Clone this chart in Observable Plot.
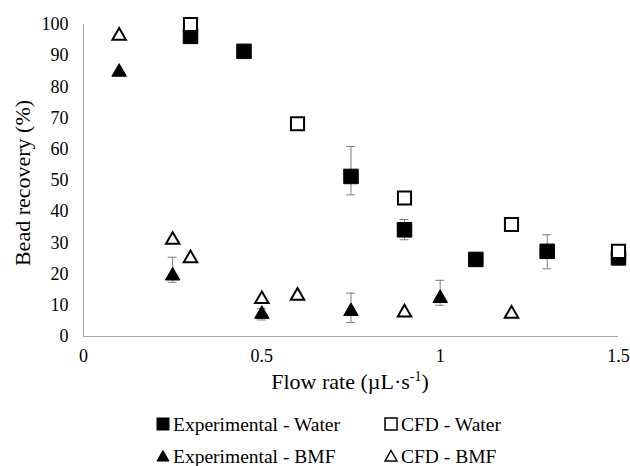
<!DOCTYPE html>
<html>
<head>
<meta charset="utf-8">
<script src="https://cdn.jsdelivr.net/npm/d3@7"></script>
<script src="https://cdn.jsdelivr.net/npm/@observablehq/plot@0.6"></script>
<style>
  html, body { margin: 0; padding: 0; background: #fff; }
  #chart { width: 630px; }
  svg { display: block; }
  #chart svg, #chart svg text, #chart svg tspan { font-family: 'Liberation Serif', 'Times New Roman', serif !important; }
</style>
</head>
<body>
<div id="chart"></div>
<script>
// ---- Data ----
const flowExpWater = [0.3, 0.45, 0.75, 0.9, 1.1, 1.3, 1.5];
const recExpWater  = [96.2, 91.4, 51.3, 34.2, 24.7, 27.3, 25.2];

const flowCfdWater = [0.3, 0.6, 0.9, 1.2, 1.5];
const recCfdWater  = [100, 68.2, 44.4, 35.9, 27.3];

const flowExpBmf = [0.1, 0.25, 0.5, 0.75, 1.0];
const recExpBmf  = [85.4, 20.1, 7.8, 8.7, 12.9];

const flowCfdBmf = [0.1, 0.25, 0.3, 0.5, 0.6, 0.9, 1.2];
const recCfdBmf  = [97.0, 31.6, 25.7, 12.6, 13.7, 8.3, 7.9];

// error bars (experimental series)
const errFlow = [0.75, 0.9, 1.3, 0.25, 0.5, 0.75, 1.0];
const errLow  = [45.4, 31.0, 21.7, 17.4, 5.3, 4.5, 10.0];
const errHigh = [60.9, 37.5, 32.6, 25.4, 9.0, 13.9, 18.0];

const xTicks = [0, 0.5, 1, 1.5];
const yTicks = [0, 10, 20, 30, 40, 50, 60, 70, 80, 90, 100];
const xTitle = "Flow rate (µL·s";
const xTitleSup = "-1";
const xTitleEnd = ")";
const yTitle = "Bead recovery (%)";
const seriesNames = ["Experimental - Water", "CFD - Water", "Experimental - BMF", "CFD - BMF"];

// ---- Build tables ----
const zip = (xs, ys) => xs.map((x, i) => ({x, y: ys[i]}));
const expWater = zip(flowExpWater, recExpWater);
const cfdWater = zip(flowCfdWater, recCfdWater);
const expBmf = zip(flowExpBmf, recExpBmf);
const cfdBmf = zip(flowCfdBmf, recCfdBmf);
const errs = errFlow.map((x, i) => ({x, lo: errLow[i], hi: errHigh[i]}));
const capHalf = 0.0125;

const FONT = "'Liberation Serif', 'Times New Roman', serif";
const axisGray = "#a6a6a6";
const errGray = "#7f7f7f";

const plot = Plot.plot({
  width: 630,
  height: 400,
  marginLeft: 83,
  marginRight: 12,
  marginTop: 24,
  marginBottom: 64,
  style: {fontFamily: FONT, fontSize: "18px", color: "#000", background: "#fff"},
  x: {domain: [0, 1.5]},
  y: {domain: [0, 100]},
  marks: [
    Plot.axisY({ticks: yTicks, tickSize: 0, tickPadding: 15, label: null, fontSize: 18, tickFormat: d3.format("")}),
    Plot.axisX({ticks: xTicks, tickSize: 0, tickPadding: 13, label: null, fontSize: 18, tickFormat: d3.format("")}),
    Plot.ruleX([0], {stroke: axisGray, strokeWidth: 1}),
    Plot.ruleY([0], {stroke: axisGray, strokeWidth: 1}),
    // error bars
    Plot.ruleX(errs, {x: "x", y1: "lo", y2: "hi", stroke: errGray, strokeWidth: 1}),
    Plot.ruleY(errs, {y: "hi", x1: d => d.x - capHalf, x2: d => d.x + capHalf, stroke: errGray, strokeWidth: 1}),
    Plot.ruleY(errs, {y: "lo", x1: d => d.x - capHalf, x2: d => d.x + capHalf, stroke: errGray, strokeWidth: 1}),
    // series
    Plot.dot(expWater, {x: "x", y: "y", symbol: "square", r: 8.2, fill: "#000", stroke: "#000", strokeWidth: 1}),
    Plot.dot(cfdWater, {x: "x", y: "y", symbol: "square", r: 7.4, fill: "#fff", stroke: "#000", strokeWidth: 2}),
    Plot.dot(expBmf, {x: "x", y: "y", symbol: "triangle", r: 5.4, dy: 2, fill: "#000", stroke: "#000", strokeWidth: 1}),
    Plot.dot(cfdBmf, {x: "x", y: "y", symbol: "triangle", r: 5.0, dy: 2, fill: "#fff", stroke: "#000", strokeWidth: 2})
  ]
});

const svg = d3.select(plot);
// x title with superscript
const xt = svg.append("text")
  .attr("x", 350).attr("y", 389)
  .attr("text-anchor", "middle")
  .style("font-family", FONT).style("font-size", "22px").attr("fill", "#000");
xt.append("tspan").text(xTitle);
xt.append("tspan").attr("dy", -8).style("font-size", "14px").text(xTitleSup);
xt.append("tspan").attr("dy", 8).text(xTitleEnd);
// y title
svg.append("text")
  .attr("transform", "translate(30,183) rotate(-90)")
  .attr("text-anchor", "middle")
  .style("font-family", FONT).style("font-size", "22px").attr("fill", "#000")
  .text(yTitle);

document.getElementById("chart").appendChild(plot);

// ---- Legend (below the plot) ----
const leg = d3.select("#chart").append("svg")
  .attr("width", 630).attr("height", 66)
  .style("font-family", FONT);
const legItems = [
  {name: seriesNames[0], sx: 163, sy: 24, sym: "square", filled: true},
  {name: seriesNames[1], sx: 391, sy: 24, sym: "square", filled: false},
  {name: seriesNames[2], sx: 163, sy: 56, sym: "triangle", filled: true},
  {name: seriesNames[3], sx: 391, sy: 56, sym: "triangle", filled: false}
];
legItems.forEach(it => {
  const g = leg.append("g");
  if (it.sym === "square") {
    g.append("rect")
      .attr("x", it.sx - 6).attr("y", it.sy - 6).attr("width", 12).attr("height", 12)
      .attr("fill", it.filled ? "#000" : "#fff").attr("stroke", "#000").attr("stroke-width", it.filled ? 1 : 1.5);
  } else {
    g.append("path")
      .attr("d", `M${it.sx},${it.sy - 5.5}L${it.sx + 6},${it.sy + 5}L${it.sx - 6},${it.sy + 5}Z`)
      .attr("fill", it.filled ? "#000" : "#fff").attr("stroke", "#000").attr("stroke-width", it.filled ? 1 : 1.5);
  }
  g.append("text")
    .attr("x", it.sx + 10).attr("y", it.sy + 7)
    .style("font-size", "19.5px").attr("fill", "#000")
    .text(it.name);
});
</script>
</body>
</html>
